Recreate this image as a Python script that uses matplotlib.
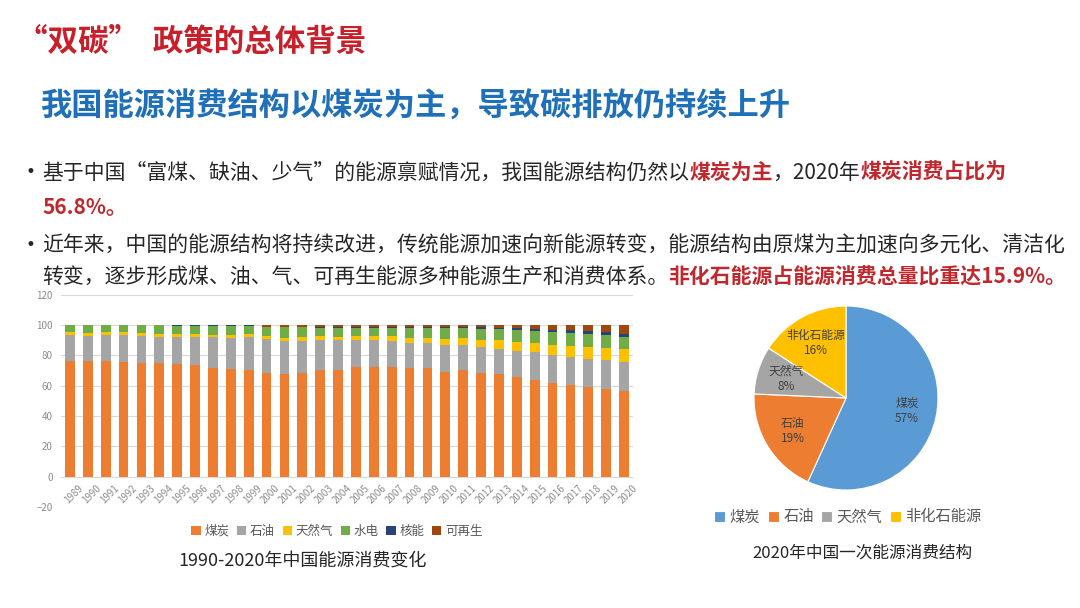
import numpy as np
import matplotlib
matplotlib.use('Agg')
import matplotlib.pyplot as plt

plt.rcParams['font.family'] = ['Noto Sans CJK SC', 'DejaVu Sans']

# ---- bar chart data (share of primary energy consumption, %) ----
years = [str(y) for y in range(1989, 2021)]
coal = [76.0, 76.2, 76.1, 75.7, 74.7, 75.0, 74.6, 73.5, 71.4, 70.9, 70.6, 68.5,
        68.0, 68.5, 70.2, 70.2, 72.4, 72.4, 72.5, 71.5, 71.6, 69.2, 70.2, 68.5,
        67.4, 65.6, 63.7, 62.0, 60.4, 59.0, 57.7, 56.8]
oil = [17.1, 16.6, 17.1, 17.5, 18.2, 17.4, 17.5, 18.7, 20.4, 20.8, 21.5, 22.0,
       21.2, 21.0, 20.1, 19.9, 17.8, 17.5, 17.0, 16.7, 16.4, 17.4, 16.8, 17.0,
       17.1, 17.4, 18.3, 18.5, 18.8, 18.9, 19.0, 18.9]
gas = [2.1, 2.1, 2.0, 1.9, 1.9, 1.9, 1.8, 1.8, 1.8, 1.8, 2.0, 2.2,
       2.4, 2.3, 2.3, 2.3, 2.4, 2.7, 3.0, 3.4, 3.5, 4.0, 4.6, 4.8,
       5.3, 5.7, 5.9, 6.2, 7.0, 7.6, 8.0, 8.4]
hydro = [4.8, 5.1, 4.8, 4.9, 5.2, 5.4, 5.7, 5.6, 6.0, 6.1, 5.5, 5.9,
         6.9, 6.6, 5.6, 5.8, 5.7, 5.7, 5.7, 6.5, 6.6, 7.4, 6.2, 7.3,
         7.6, 8.2, 8.3, 8.8, 8.7, 8.7, 8.6, 8.1]
nuclear = [0, 0, 0, 0, 0, 0.3, 0.4, 0.4, 0.4, 0.4, 0.4, 0.4,
           0.4, 0.5, 0.8, 0.8, 0.7, 0.7, 0.8, 0.8, 0.7, 0.7, 0.7, 0.8,
           0.8, 1.0, 1.2, 1.5, 1.6, 1.8, 2.1, 2.2]
renew = [0, 0, 0, 0, 0, 0, 0, 0, 0, 0, 0, 1.0,
         1.1, 1.1, 1.0, 1.0, 1.0, 1.0, 1.0, 1.1, 1.2, 1.3, 1.5, 1.6,
         1.8, 2.1, 2.6, 3.0, 3.5, 4.0, 4.6, 5.6]
bar_names = ['煤炭', '石油', '天然气', '水电', '核能', '可再生']
bar_colors = ['#ED7D31', '#A5A5A5', '#FFC000', '#70AD47', '#264478', '#9E480E']

# ---- pie chart data (2020) ----
pie_names = ['煤炭', '石油', '天然气', '非化石能源']
pie_values = [56.8, 18.9, 8.4, 15.9]
pie_colors = ['#5B9BD5', '#ED7D31', '#A5A5A5', '#FFC000']

W, H = 1080, 608
fig = plt.figure(figsize=(W / 100, H / 100), dpi=100)
fig.patch.set_facecolor('white')
renderer = fig.canvas.get_renderer()

red = '#C0282D'
dark = '#262626'


def rich_line(x_px, y_px, pieces, size):
    # draw consecutive text pieces with different styles on one line
    x = x_px / W
    for s, color, weight in pieces:
        t = fig.text(x, 1 - y_px / H, s, color=color, fontsize=size,
                     fontweight=weight, va='center_baseline', ha='left')
        bb = t.get_window_extent(renderer)
        x += bb.width / W


# ---- titles ----
fig.text(17 / W, 1 - 42 / H, '“双碳”  政策的总体背景', color='#C8202A',
         fontsize=22, fontweight='bold', va='center')
fig.text(40 / W, 1 - 107 / H, '我国能源消费结构以煤炭为主，导致碳排放仍持续上升',
         color='#1F70B8', fontsize=22.5, fontweight='bold', va='center')

# ---- bullets ----
fs = 15
for yb in (170, 243):
    fig.text(26 / W, 1 - yb / H, '•', color=dark, fontsize=12,
             family=['DejaVu Sans'], va='center_baseline')
rich_line(42, 170, [('基于中国“富煤、缺油、少气”的能源禀赋情况，我国能源结构仍然以', dark, 'normal'),
                    ('煤炭为主', red, 'bold'),
                    ('，2020年', dark, 'normal'),
                    ('煤炭消费占比为', red, 'bold')], fs)
rich_line(42, 205, [('56.8%。', red, 'bold')], fs)
rich_line(42, 243, [('近年来，中国的能源结构将持续改进，传统能源加速向新能源转变，能源结构由原煤为主加速向多元化、清洁化', dark, 'normal')], fs)
rich_line(42, 275, [('转变，逐步形成煤、油、气、可再生能源多种能源生产和消费体系。', dark, 'normal'),
                    ('非化石能源占能源消费总量比重达15.9%。', red, 'bold')], fs)

# ---- stacked bar chart ----
ax = fig.add_axes([61 / W, 1 - 507 / H, 572 / W, (507 - 294.7) / H])
x = np.arange(len(years))
bottom = np.zeros(len(years))
for vals, color, name in zip([coal, oil, gas, hydro, nuclear, renew],
                             bar_colors, bar_names):
    ax.bar(x, vals, bottom=bottom, width=0.55, color=color, label=name)
    bottom += np.array(vals)

ax.set_xlim(-0.5, len(years) - 0.5)
ax.set_ylim(-20, 120)
ax.set_yticks(range(-20, 121, 20))
ax.set_xticks([])
ax.grid(axis='y', color='#D9D9D9', linewidth=0.8)
ax.set_axisbelow(True)
for sp in ax.spines.values():
    sp.set_visible(False)
ax.tick_params(axis='y', length=0, labelsize=7, colors='#8C8C8C', pad=6)
for i, yr in enumerate(years):
    ax.text(i + 0.45, -4, yr, rotation=45, ha='right', va='top',
            rotation_mode='anchor', fontsize=7, color='#8C8C8C')

handles, labels = ax.get_legend_handles_labels()
fig.legend(handles, labels, loc='center', bbox_to_anchor=(337 / W, 1 - 531 / H),
           ncol=6, frameon=False, fontsize=9, handlelength=0.75,
           handleheight=0.75, handletextpad=0.3, columnspacing=0.6,
           labelcolor='#595959')
fig.text(303 / W, 1 - 562 / H, '1990-2020年中国能源消费变化', ha='center',
         va='center', fontsize=13, color=dark)

# ---- pie chart ----
pax = fig.add_axes([754 / W, 1 - 490 / H, 184 / W, 184 / H])
names_iter = iter(pie_names)
wedges, texts, autotexts = pax.pie(
    pie_values, colors=pie_colors, startangle=90, counterclock=False,
    autopct=lambda p: f'{next(names_iter)}\n{p:.0f}%', pctdistance=0.68,
    wedgeprops=dict(edgecolor='white', linewidth=0.8),
    textprops=dict(fontsize=8.5, color='#404040'))
pax.set_xlim(-1, 1)
pax.set_ylim(-1, 1)

fig.legend(wedges, pie_names, loc='center', bbox_to_anchor=(848 / W, 1 - 517 / H),
           ncol=4, frameon=False, fontsize=11, handlelength=0.7,
           handleheight=0.7, handletextpad=0.3, columnspacing=0.5,
           labelcolor='#595959')
fig.text(862 / W, 1 - 553 / H, '2020年中国一次能源消费结构', ha='center',
         va='center', fontsize=12, color=dark)

fig.savefig('out.png', dpi=100)
